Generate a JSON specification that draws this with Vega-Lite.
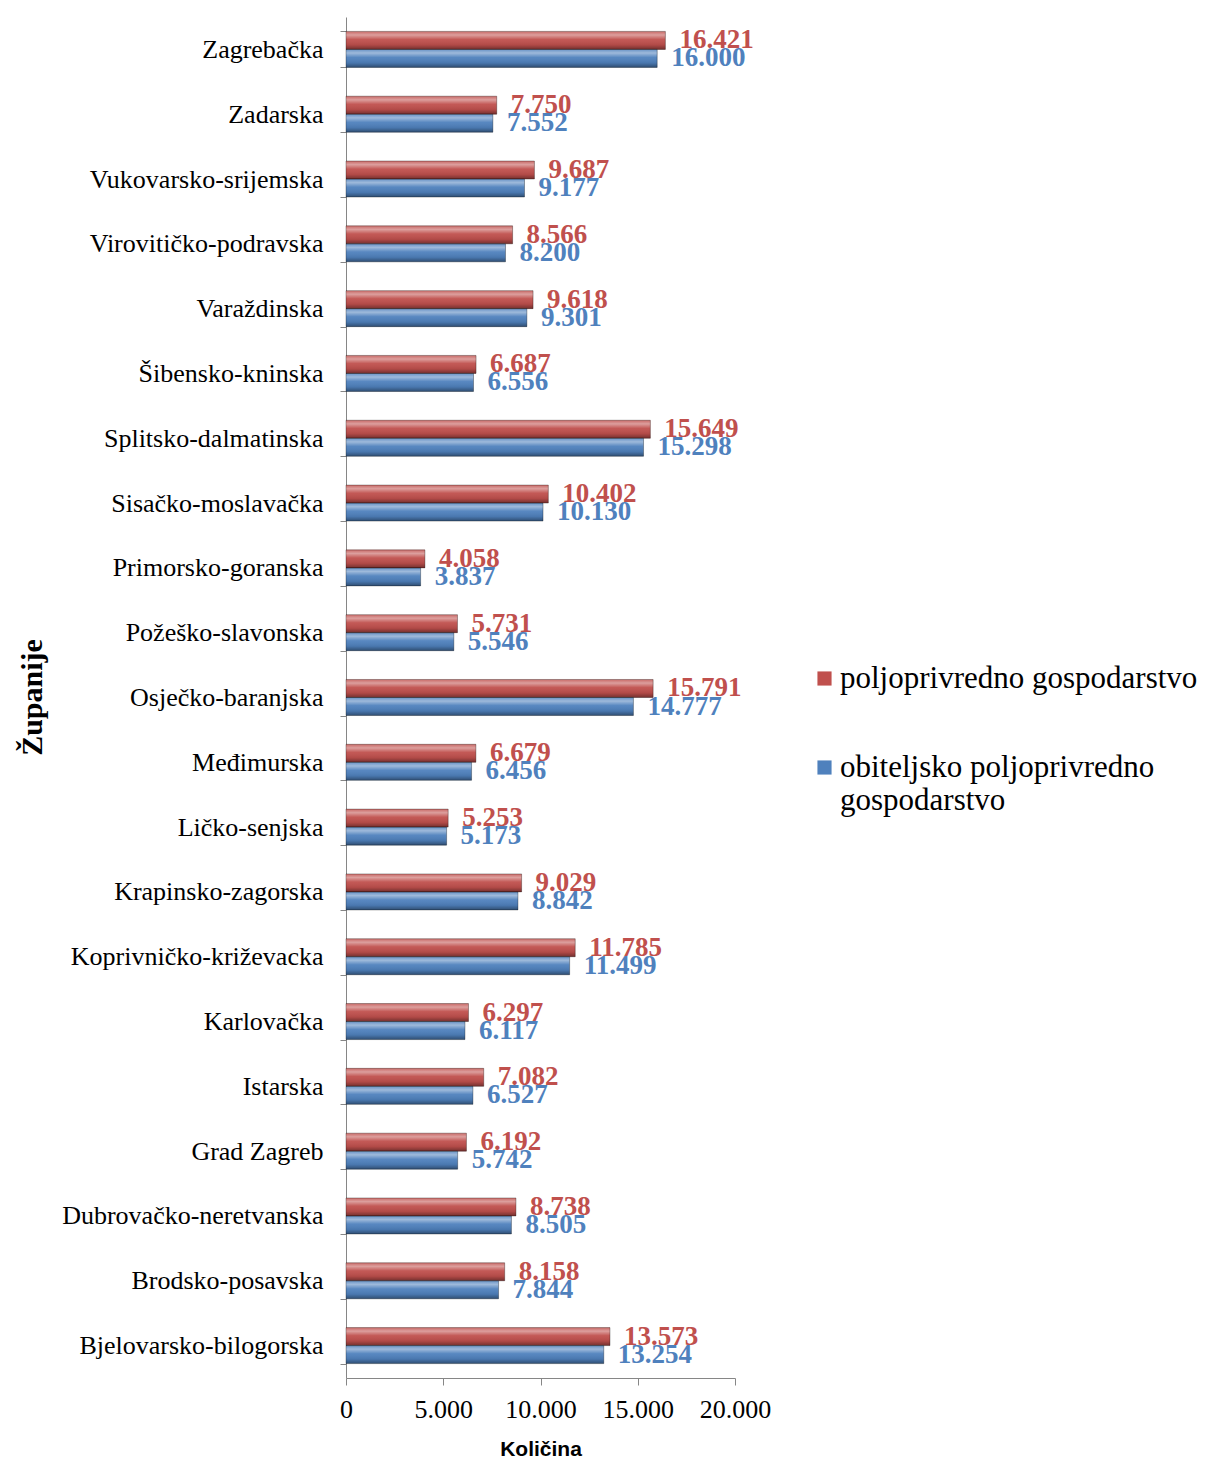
{
  "$schema": "https://vega.github.io/schema/vega-lite/v6.json",
  "width": 389,
  "height": 1361,
  "autosize": {"type": "none"},
  "padding": {"left": 346, "top": 17, "right": 477, "bottom": 81},
  "background": "white",
  "config": {
    "locale": {"number": {"decimal": ",", "thousands": ".", "grouping": [3], "currency": ["", ""]}},
    "view": {"stroke": null}
  },
  "data": {
    "values": [
      {"zupanija": "Zagrebačka", "vrsta": "poljoprivredno gospodarstvo", "kolicina": 16421},
      {"zupanija": "Zagrebačka", "vrsta": "obiteljsko poljoprivredno gospodarstvo", "kolicina": 16000},
      {"zupanija": "Zadarska", "vrsta": "poljoprivredno gospodarstvo", "kolicina": 7750},
      {"zupanija": "Zadarska", "vrsta": "obiteljsko poljoprivredno gospodarstvo", "kolicina": 7552},
      {"zupanija": "Vukovarsko-srijemska", "vrsta": "poljoprivredno gospodarstvo", "kolicina": 9687},
      {"zupanija": "Vukovarsko-srijemska", "vrsta": "obiteljsko poljoprivredno gospodarstvo", "kolicina": 9177},
      {"zupanija": "Virovitičko-podravska", "vrsta": "poljoprivredno gospodarstvo", "kolicina": 8566},
      {"zupanija": "Virovitičko-podravska", "vrsta": "obiteljsko poljoprivredno gospodarstvo", "kolicina": 8200},
      {"zupanija": "Varaždinska", "vrsta": "poljoprivredno gospodarstvo", "kolicina": 9618},
      {"zupanija": "Varaždinska", "vrsta": "obiteljsko poljoprivredno gospodarstvo", "kolicina": 9301},
      {"zupanija": "Šibensko-kninska", "vrsta": "poljoprivredno gospodarstvo", "kolicina": 6687},
      {"zupanija": "Šibensko-kninska", "vrsta": "obiteljsko poljoprivredno gospodarstvo", "kolicina": 6556},
      {"zupanija": "Splitsko-dalmatinska", "vrsta": "poljoprivredno gospodarstvo", "kolicina": 15649},
      {"zupanija": "Splitsko-dalmatinska", "vrsta": "obiteljsko poljoprivredno gospodarstvo", "kolicina": 15298},
      {"zupanija": "Sisačko-moslavačka", "vrsta": "poljoprivredno gospodarstvo", "kolicina": 10402},
      {"zupanija": "Sisačko-moslavačka", "vrsta": "obiteljsko poljoprivredno gospodarstvo", "kolicina": 10130},
      {"zupanija": "Primorsko-goranska", "vrsta": "poljoprivredno gospodarstvo", "kolicina": 4058},
      {"zupanija": "Primorsko-goranska", "vrsta": "obiteljsko poljoprivredno gospodarstvo", "kolicina": 3837},
      {"zupanija": "Požeško-slavonska", "vrsta": "poljoprivredno gospodarstvo", "kolicina": 5731},
      {"zupanija": "Požeško-slavonska", "vrsta": "obiteljsko poljoprivredno gospodarstvo", "kolicina": 5546},
      {"zupanija": "Osječko-baranjska", "vrsta": "poljoprivredno gospodarstvo", "kolicina": 15791},
      {"zupanija": "Osječko-baranjska", "vrsta": "obiteljsko poljoprivredno gospodarstvo", "kolicina": 14777},
      {"zupanija": "Međimurska", "vrsta": "poljoprivredno gospodarstvo", "kolicina": 6679},
      {"zupanija": "Međimurska", "vrsta": "obiteljsko poljoprivredno gospodarstvo", "kolicina": 6456},
      {"zupanija": "Ličko-senjska", "vrsta": "poljoprivredno gospodarstvo", "kolicina": 5253},
      {"zupanija": "Ličko-senjska", "vrsta": "obiteljsko poljoprivredno gospodarstvo", "kolicina": 5173},
      {"zupanija": "Krapinsko-zagorska", "vrsta": "poljoprivredno gospodarstvo", "kolicina": 9029},
      {"zupanija": "Krapinsko-zagorska", "vrsta": "obiteljsko poljoprivredno gospodarstvo", "kolicina": 8842},
      {"zupanija": "Koprivničko-križevacka", "vrsta": "poljoprivredno gospodarstvo", "kolicina": 11785},
      {"zupanija": "Koprivničko-križevacka", "vrsta": "obiteljsko poljoprivredno gospodarstvo", "kolicina": 11499},
      {"zupanija": "Karlovačka", "vrsta": "poljoprivredno gospodarstvo", "kolicina": 6297},
      {"zupanija": "Karlovačka", "vrsta": "obiteljsko poljoprivredno gospodarstvo", "kolicina": 6117},
      {"zupanija": "Istarska", "vrsta": "poljoprivredno gospodarstvo", "kolicina": 7082},
      {"zupanija": "Istarska", "vrsta": "obiteljsko poljoprivredno gospodarstvo", "kolicina": 6527},
      {"zupanija": "Grad Zagreb", "vrsta": "poljoprivredno gospodarstvo", "kolicina": 6192},
      {"zupanija": "Grad Zagreb", "vrsta": "obiteljsko poljoprivredno gospodarstvo", "kolicina": 5742},
      {"zupanija": "Dubrovačko-neretvanska", "vrsta": "poljoprivredno gospodarstvo", "kolicina": 8738},
      {"zupanija": "Dubrovačko-neretvanska", "vrsta": "obiteljsko poljoprivredno gospodarstvo", "kolicina": 8505},
      {"zupanija": "Brodsko-posavska", "vrsta": "poljoprivredno gospodarstvo", "kolicina": 8158},
      {"zupanija": "Brodsko-posavska", "vrsta": "obiteljsko poljoprivredno gospodarstvo", "kolicina": 7844},
      {"zupanija": "Bjelovarsko-bilogorska", "vrsta": "poljoprivredno gospodarstvo", "kolicina": 13573},
      {"zupanija": "Bjelovarsko-bilogorska", "vrsta": "obiteljsko poljoprivredno gospodarstvo", "kolicina": 13254}
    ]
  },
  "encoding": {
    "x": {
      "field": "kolicina", "type": "quantitative",
      "scale": {"domain": [0, 20000], "nice": false},
      "axis": {
        "title": "Količina", "values": [0, 5000, 10000, 15000, 20000], "format": ",d",
        "grid": false, "domainColor": "#868686", "tickColor": "#868686", "tickSize": 7,
        "labelFont": "Liberation Serif", "labelFontSize": 26, "labelColor": "#000", "labelPadding": 11,
        "labelFlush": false,
        "titleFont": "Liberation Sans", "titleFontSize": 21, "titleFontWeight": "bold", "titleColor": "#000",
        "titlePadding": 16
      }
    },
    "y": {
      "field": "zupanija", "type": "nominal",
      "sort": ["Zagrebačka", "Zadarska", "Vukovarsko-srijemska", "Virovitičko-podravska", "Varaždinska", "Šibensko-kninska", "Splitsko-dalmatinska", "Sisačko-moslavačka", "Primorsko-goranska", "Požeško-slavonska", "Osječko-baranjska", "Međimurska", "Ličko-senjska", "Krapinsko-zagorska", "Koprivničko-križevacka", "Karlovačka", "Istarska", "Grad Zagreb", "Dubrovačko-neretvanska", "Brodsko-posavska", "Bjelovarsko-bilogorska"],
      "scale": {"paddingInner": 0.444, "paddingOuter": 0.222},
      "axis": {
        "title": "Županije", "tickBand": "extent", "grid": false,
        "domainColor": "#868686", "tickColor": "#868686", "tickSize": 6,
        "labelFont": "Liberation Serif", "labelFontSize": 26, "labelColor": "#000", "labelPadding": 17,
        "labelLimit": 400,
        "titleFont": "Liberation Serif", "titleFontSize": 30, "titleFontWeight": "bold", "titleColor": "#000",
        "titleX": -314, "titleY": 680, "titleAngle": -90, "titleAlign": "center", "titleBaseline": "middle"
      }
    },
    "yOffset": {
      "field": "vrsta", "type": "nominal",
      "sort": ["poljoprivredno gospodarstvo", "obiteljsko poljoprivredno gospodarstvo"]
    }
  },
  "layer": [
    {
      "mark": {"type": "bar"},
      "encoding": {
        "color": {
          "field": "vrsta", "type": "nominal",
          "scale": {"domain": ["poljoprivredno gospodarstvo", "obiteljsko poljoprivredno gospodarstvo"], "range": ["#c0504d", "#4f81bd"]},
          "legend": {
            "title": null, "orient": "none", "legendX": 463, "legendY": 646,
            "symbolType": "square", "symbolSize": 200, "symbolStrokeWidth": 0,
            "labelFont": "Liberation Serif", "labelFontSize": 31, "labelColor": "#000", "labelLimit": 500,
            "labelOffset": 0, "rowPadding": 57, "labelBaseline": "middle",
            "labelExpr": "datum.label == 'obiteljsko poljoprivredno gospodarstvo' ? ['obiteljsko poljoprivredno', 'gospodarstvo'] : datum.label"
          }
        }
      }
    },
    {
      "mark": {
        "type": "bar",
        "stroke": "rgba(0,0,0,0.3)", "strokeWidth": 1,
        "fill": {
          "gradient": "linear", "x1": 0, "y1": 0, "x2": 0, "y2": 1,
          "stops": [
            {"offset": 0, "color": "rgba(255,255,255,0.15)"},
            {"offset": 0.2, "color": "rgba(255,255,255,0.45)"},
            {"offset": 0.45, "color": "rgba(255,255,255,0.05)"},
            {"offset": 0.75, "color": "rgba(0,0,0,0.08)"},
            {"offset": 1, "color": "rgba(0,0,0,0.4)"}
          ]
        }
      }
    },
    {
      "mark": {"type": "text", "align": "left", "baseline": "middle", "dx": 14, "font": "Liberation Serif", "fontWeight": "bold", "fontSize": 27},
      "encoding": {
        "text": {"field": "kolicina", "type": "quantitative", "format": ",d"},
        "color": {"field": "vrsta", "type": "nominal"}
      }
    }
  ]
}
